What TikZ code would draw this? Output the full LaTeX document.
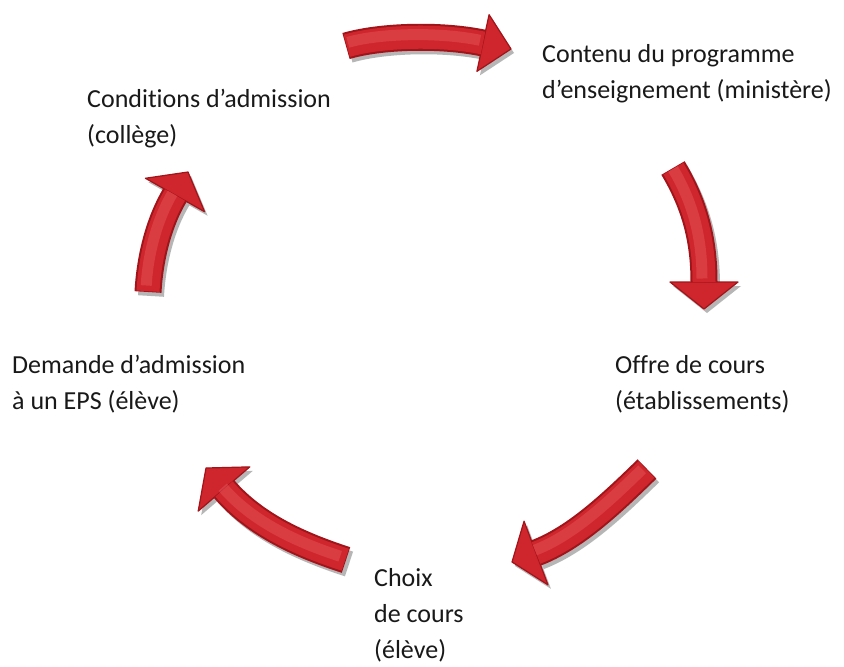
\documentclass[tikz,border=0pt]{standalone}
\usepackage{fontspec}
\setmainfont{Carlito}[Ligatures=NoCommon]
\usetikzlibrary{calc}
\definecolor{arrowdark}{RGB}{160,20,26}
\definecolor{arrowmain}{RGB}{206,38,44}
\definecolor{arrowlight}{RGB}{238,104,108}
\definecolor{arrowshadow}{RGB}{95,95,95}
\tikzset{
  label text/.style={anchor=base west, align=left, inner sep=0pt,
    font=\fontsize{26pt}{36pt}\selectfont, text=black!90},
}
% #1 name, #2 tail, #3 control 1, #4 control 2, #5 head base, #6 tip, #7 head half width
\newcommand{\cyclearrow}[7]{%
  \coordinate (#1t) at #2;
  \coordinate (#1a) at #3;
  \coordinate (#1b) at #4;
  \coordinate (#1B) at #5;
  \coordinate (#1P) at #6;
  \coordinate (#1L) at ($(#1B)!#7!90:(#1P)$);
  \coordinate (#1R) at ($(#1B)!#7!-90:(#1P)$);
  \begin{scope}[transform canvas={xshift=3pt,yshift=-4pt}]
    \draw[line width=26pt, arrowshadow, opacity=0.45] (#1t) .. controls (#1a) and (#1b) .. (#1B);
    \fill[arrowshadow, opacity=0.45] (#1L) -- (#1P) -- (#1R) -- cycle;
  \end{scope}
  \draw[line width=27pt, arrowdark] (#1t) .. controls (#1a) and (#1b) .. (#1B);
  \filldraw[fill=arrowmain, draw=arrowdark, line width=1.2pt, line join=round] (#1L) -- (#1P) -- (#1R) -- cycle;
  \draw[line width=23pt, arrowmain, shorten <=0.8pt] (#1t) .. controls (#1a) and (#1b) .. (#1B);
  \begin{scope}[transform canvas={xshift=-2pt,yshift=2.5pt}]
    \draw[line width=11pt, arrowlight, opacity=0.35, shorten <=4pt, shorten >=1pt] (#1t) .. controls (#1a) and (#1b) .. (#1B);
  \end{scope}
}
\begin{document}
\begin{tikzpicture}[x=1pt, y=-1pt, line cap=butt]
  \fill[white] (0,0) rectangle (844,667);
  \useasboundingbox (0,0) rectangle (844,667);

  % arrows (clockwise)
  \cyclearrow{top}{(346,46)}{(380,36)}{(440,34)}{(483,43)}{(511,49)}{29pt}
  \cyclearrow{right}{(673,168)}{(695,205)}{(704,240)}{(704,282)}{(704,309)}{34pt}
  \cyclearrow{lowright}{(647,469)}{(610,505)}{(575,538)}{(536,553)}{(512,562)}{34pt}
  \cyclearrow{lowleft}{(346,560)}{(300,545)}{(255,525)}{(224,489)}{(206,468)}{34pt}
  \cyclearrow{left}{(148,292)}{(150,255)}{(160,220)}{(175,195)}{(188,172)}{34pt}

  % labels (anchor = baseline of last line)
  \node[label text] (contenu) at (542,98) {Contenu du programme\\d’enseignement (ministère)};
  \node[label text] (offre) at (615,409) {Offre de cours\\(établissements)};
  \node[label text] (choix) at (374,658) {Choix\\de cours\\(élève)};
  \node[label text] (demande) at (12,409) {Demande d’admission\\à un EPS (élève)};
  \node[label text] (conditions) at (87,143) {Conditions d’admission\\(collège)};
\end{tikzpicture}
\end{document}
